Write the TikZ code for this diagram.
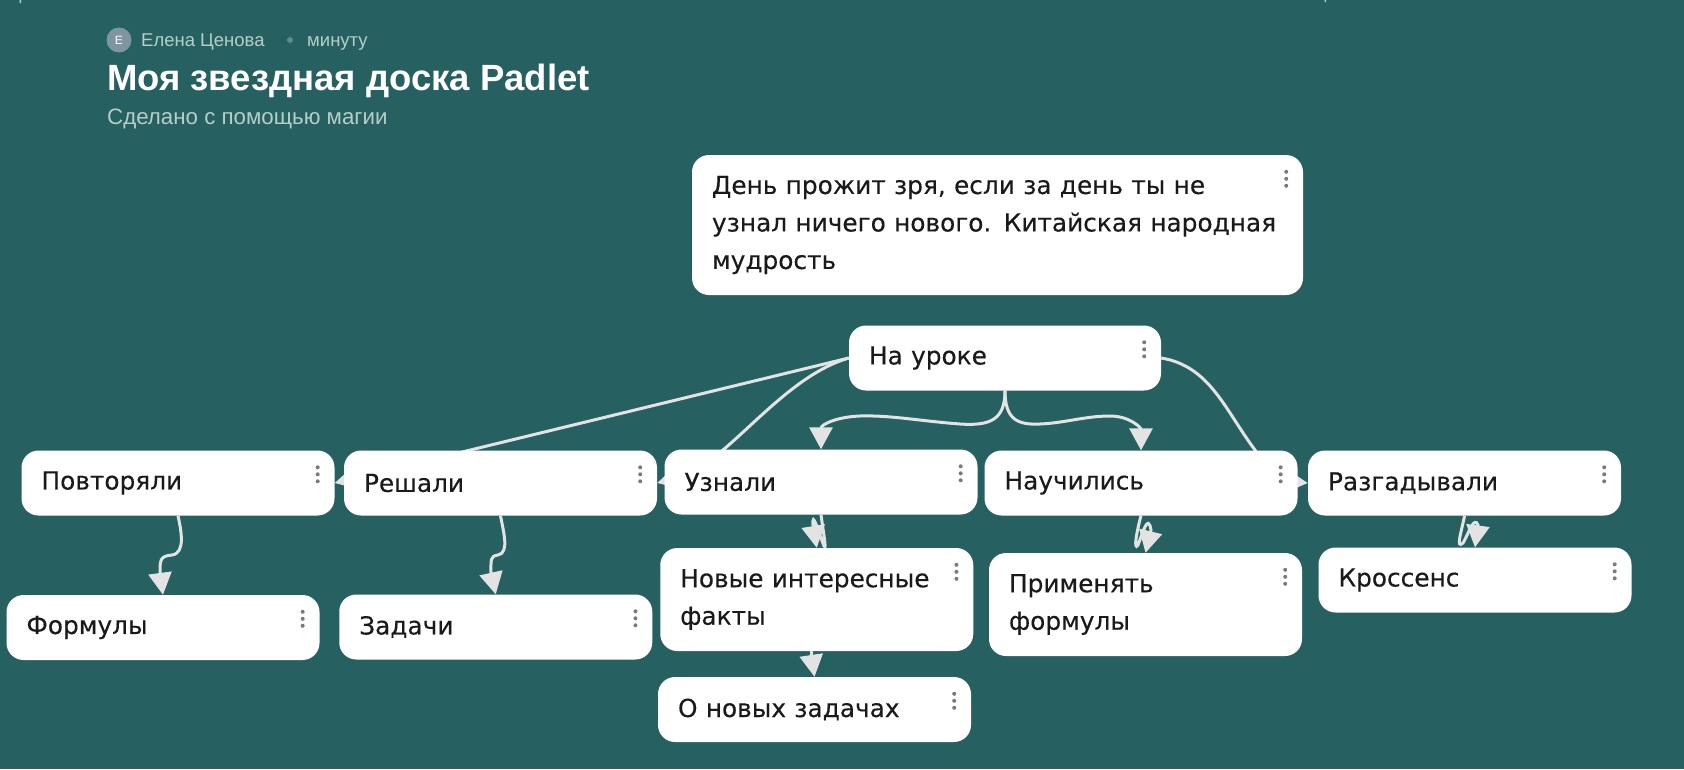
\documentclass[tikz,border=0pt]{standalone}
\usepackage{fontspec}
\usetikzlibrary{arrows.meta,backgrounds}
\newfontfamily\cardfont[FakeBold=0.25]{DejaVu Sans}
\newfontfamily\headfont{Liberation Sans}
\definecolor{boardbg}{HTML}{266060}
\definecolor{linkgray}{HTML}{E3E3E3}
\definecolor{dotgray}{HTML}{7A7A7A}
\definecolor{inktext}{HTML}{1A1A1A}
\definecolor{headtext}{HTML}{B5CFC8}
\definecolor{avatarblue}{HTML}{7E96A0}
\begin{document}
\begin{tikzpicture}[x=1pt,y=-1pt,
  card/.style={fill=white,rounded corners=17pt,align=left,text=inktext,text width=#1-40pt,inner xsep=20pt,inner ysep=0pt,minimum height=65pt,font=\cardfont\fontsize{24.8}{37.5}\selectfont},
  link/.style={draw=linkgray,line width=3pt,-{Triangle[length=22pt,width=23pt]}},
  headline/.style={anchor=west,inner sep=0pt,text=headtext,font=\headfont\fontsize{18.5}{20}\selectfont}]
\useasboundingbox (0,0) rectangle (1684,769);

% header
\node[circle,minimum size=25pt,inner sep=0pt,text=white,font=\headfont\fontsize{12}{12}\selectfont,fill=avatarblue] (avatar) at (119,40) {Е};
\node[headline] (author) at (141,42) {Елена Ценова};
\fill[headtext!40!boardbg] (290,40) circle (3pt);
\node[headline] (age) at (307,43.5) {минуту};
\node[headline,text=white,font=\headfont\bfseries\fontsize{36.5}{40}\selectfont] (title) at (107,81) {Моя звездная доска Padlet};
\node[headline,font=\headfont\fontsize{22.3}{24}\selectfont] (subtitle) at (107,119) {Сделано с помощью магии};

% cards
\node[card=611pt,minimum height=140pt] (quote) at (997.5,225) {День прожит зря, если за день ты не\\узнал ничего нового. Китайская народная\\мудрость};
\node[card=312pt] (lesson) at (1005,358) {На уроке};
\node[card=313pt] (repeated) at (178,483) {Повторяли};
\node[card=313pt] (solved) at (500.5,483) {Решали};
\node[card=313pt] (learned) at (821,482) {Узнали};
\node[card=313pt] (mastered) at (1141,483) {Научились};
\node[card=313pt] (guessed) at (1464.5,483) {Разгадывали};
\node[card=313pt] (formulas) at (163,627.5) {Формулы};
\node[card=313pt] (tasks) at (495.75,627) {Задачи};
\node[card=313pt,minimum height=103pt] (facts) at (816.75,599.5) {Новые интересные\\факты};
\node[card=313pt] (newtasks) at (814.5,709.5) {О новых задачах};
\node[card=313pt,minimum height=103pt] (applying) at (1145.5,604.5) {Применять\\формулы};
\node[card=313pt] (crossword) at (1475,580) {Кроссенс};

% menu dots
\foreach \c in {quote,lesson,repeated,solved,learned,mastered,guessed,formulas,tasks,facts,newtasks,applying,crossword}
  \foreach \d in {-7,0,7}
    \fill[dotgray] ([xshift=-17pt,yshift=-24pt+\d pt]\c.north east) circle (2pt);

% connectors stay under the cards
\begin{scope}[on background layer]
\fill[boardbg] (0,0) rectangle (1684,769);
\fill[headtext] (19.5,0) rectangle (21,3) (1324.5,0) rectangle (1326,2);
\draw[link] (lesson.west) -- (repeated.east);
\draw[link] (lesson.west) .. controls (780,378) and (726,465) .. (solved.east);
\draw[link] (lesson.south) .. controls (1005,420) and (990,426) .. (960,424) .. controls (920,421) and (890,415) .. (860,416) .. controls (835,417) and (821,425) .. (learned.north);
\draw[link] (lesson.south) .. controls (1005,420) and (1018,425) .. (1040,424) .. controls (1065,423) and (1085,416) .. (1110,416) .. controls (1130,416) and (1141,428) .. (mastered.north);
\draw[link] (lesson.east) .. controls (1210,366) and (1225,410) .. (1255,450) .. controls (1265,465) and (1285,481) .. (guessed.west);
\draw[link] (repeated.south) .. controls (181,530) and (186,553) .. (172,555) .. controls (160,556) and (160,560) .. (160,573) -- (formulas.north);
\draw[link] (solved.south) .. controls (503,530) and (510,553) .. (498,555) .. controls (490,556) and (491,560) .. (491,573) -- (tasks.north);
\draw[link] (learned.south) .. controls (823,530) and (827,552) .. (824,546) .. controls (818,530) and (812,510) .. (813,525) -- (facts.north);
\draw[link] ([xshift=-5pt]facts.south) .. controls (811,655) and (812,660) .. (newtasks.north);
\draw[link] (mastered.south) .. controls (1137,530) and (1133,552) .. (1138,545) .. controls (1142,535) and (1148,512) .. (1151,530) -- (applying.north);
\draw[link] (guessed.south) .. controls (1462,530) and (1455,550) .. (1463,543) .. controls (1468,535) and (1474,515) .. (1478,525) -- (crossword.north);
\end{scope}
\end{tikzpicture}
\end{document}
